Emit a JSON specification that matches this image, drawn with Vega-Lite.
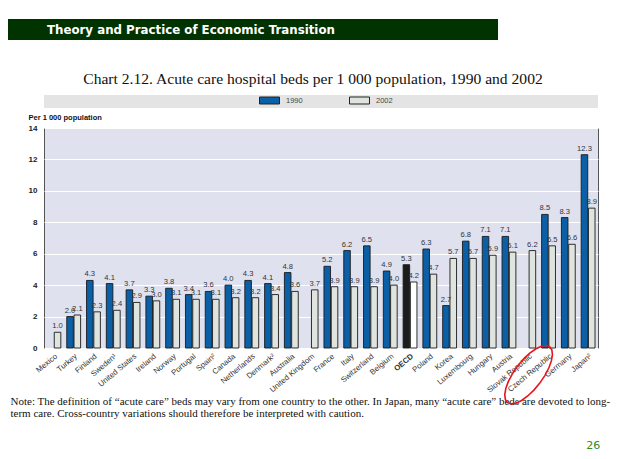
{
  "$schema": "https://vega.github.io/schema/vega-lite/v6.json",
  "background": "#ffffff",
  "padding": {"left": 8, "top": 19, "right": 0, "bottom": 0},
  "spacing": 32,
  "title": {"text": "26", "orient": "bottom", "anchor": "end", "offset": 21, "dx": -10, "color": "#2e8b2e", "fontSize": 11, "font": "DejaVu Sans", "fontWeight": "normal"},
  "datasets": {
    "beds": [
      {"country": "Mexico", "year": "2002", "value": 1.0},
      {"country": "Turkey", "year": "1990", "value": 2.0},
      {"country": "Turkey", "year": "2002", "value": 2.1},
      {"country": "Finland", "year": "1990", "value": 4.3},
      {"country": "Finland", "year": "2002", "value": 2.3},
      {"country": "Sweden¹", "year": "1990", "value": 4.1},
      {"country": "Sweden¹", "year": "2002", "value": 2.4},
      {"country": "United States", "year": "1990", "value": 3.7},
      {"country": "United States", "year": "2002", "value": 2.9},
      {"country": "Ireland", "year": "1990", "value": 3.3},
      {"country": "Ireland", "year": "2002", "value": 3.0},
      {"country": "Norway", "year": "1990", "value": 3.8},
      {"country": "Norway", "year": "2002", "value": 3.1},
      {"country": "Portugal", "year": "1990", "value": 3.4},
      {"country": "Portugal", "year": "2002", "value": 3.1},
      {"country": "Spain²", "year": "1990", "value": 3.6},
      {"country": "Spain²", "year": "2002", "value": 3.1},
      {"country": "Canada", "year": "1990", "value": 4.0},
      {"country": "Canada", "year": "2002", "value": 3.2},
      {"country": "Netherlands", "year": "1990", "value": 4.3},
      {"country": "Netherlands", "year": "2002", "value": 3.2},
      {"country": "Denmark²", "year": "1990", "value": 4.1},
      {"country": "Denmark²", "year": "2002", "value": 3.4},
      {"country": "Australia", "year": "1990", "value": 4.8},
      {"country": "Australia", "year": "2002", "value": 3.6},
      {"country": "United Kingdom", "year": "2002", "value": 3.7},
      {"country": "France", "year": "1990", "value": 5.2},
      {"country": "France", "year": "2002", "value": 3.9},
      {"country": "Italy", "year": "1990", "value": 6.2},
      {"country": "Italy", "year": "2002", "value": 3.9},
      {"country": "Switzerland", "year": "1990", "value": 6.5},
      {"country": "Switzerland", "year": "2002", "value": 3.9},
      {"country": "Belgium", "year": "1990", "value": 4.9},
      {"country": "Belgium", "year": "2002", "value": 4.0},
      {"country": "OECD", "year": "1990", "value": 5.3},
      {"country": "OECD", "year": "2002", "value": 4.2},
      {"country": "Poland", "year": "1990", "value": 6.3},
      {"country": "Poland", "year": "2002", "value": 4.7},
      {"country": "Korea", "year": "1990", "value": 2.7},
      {"country": "Korea", "year": "2002", "value": 5.7},
      {"country": "Luxembourg", "year": "1990", "value": 6.8},
      {"country": "Luxembourg", "year": "2002", "value": 5.7},
      {"country": "Hungary", "year": "1990", "value": 7.1},
      {"country": "Hungary", "year": "2002", "value": 5.9},
      {"country": "Austria", "year": "1990", "value": 7.1},
      {"country": "Austria", "year": "2002", "value": 6.1},
      {"country": "Slovak Republic", "year": "2002", "value": 6.2},
      {"country": "Czech Republic", "year": "1990", "value": 8.5},
      {"country": "Czech Republic", "year": "2002", "value": 6.5},
      {"country": "Germany", "year": "1990", "value": 8.3},
      {"country": "Germany", "year": "2002", "value": 6.6},
      {"country": "Japan²", "year": "1990", "value": 12.3},
      {"country": "Japan²", "year": "2002", "value": 8.9}
    ]
  },
  "vconcat": [
    {
      "width": 490,
      "height": 21,
      "view": {"fill": "#003300", "stroke": null},
      "data": {"values": [{"label": "Theory and Practice of Economic Transition"}]},
      "mark": {"type": "text", "align": "left", "baseline": "middle", "dx": -206, "color": "#ffffff", "font": "DejaVu Sans", "fontWeight": "bold", "fontSize": 11.8},
      "encoding": {"text": {"field": "label", "type": "nominal"}}
    },
    {
      "spacing": 0,
      "hconcat": [
        {
          "width": 1,
          "height": 1,
          "view": {"stroke": null},
          "data": {"values": [{"label": ""}]},
          "mark": {"type": "text"},
          "encoding": {"text": {"field": "label", "type": "nominal"}}
        },
        {
          "spacing": 20,
          "bounds": "flush",
          "vconcat": [
            {
              "width": 554,
              "height": 13,
              "view": {"fill": "#e4e4e4", "stroke": null},
              "title": {"text": "Chart 2.12.  Acute care hospital beds per 1 000 population, 1990 and 2002", "font": "Liberation Serif", "fontSize": 15.6, "fontWeight": "normal", "color": "#111111", "offset": 7, "dx": -8, "anchor": "middle"},
              "data": {"values": [{"label": ""}]},
              "mark": {"type": "text"},
              "encoding": {"text": {"field": "label", "type": "nominal"}}
            },
            {
              "width": 554,
              "height": 220,
              "view": {"fill": "#dfe2ee", "stroke": "#555555", "strokeWidth": 1},
              "data": {"name": "beds"},
              "encoding": {
                "x": {
                  "field": "country",
                  "type": "nominal",
                  "sort": null,
                  "scale": {"paddingInner": 0.3, "paddingOuter": 0.15},
                  "axis": {
                    "labelAngle": -40,
                    "labelFontSize": 7.8,
                    "labelColor": "#333333",
                    "labelFont": "Liberation Sans",
                    "ticks": false,
                    "domain": false,
                    "labelPadding": 4,
                    "labelFontWeight": {"condition": {"test": "datum.value === 'OECD'", "value": "bold"}, "value": "normal"},
                    "title": ["Note: The definition of “acute care” beds may vary from one country to the other. In Japan, many “acute care” beds are devoted to long-", "term care. Cross-country variations should therefore be interpreted with caution."],
                    "titleFont": "Liberation Serif",
                    "titleFontSize": 11,
                    "titleFontWeight": "normal",
                    "titleColor": "#111111",
                    "titleAlign": "left",
                    "titleAnchor": "start",
                    "titleX": -34,
                    "titleY": 47,
                    "titleBaseline": "top",
                    "titleLineHeight": 12.5
                  }
                },
                "y": {
                  "field": "value",
                  "type": "quantitative",
                  "scale": {"domain": [0, 14], "nice": false},
                  "axis": {
                    "values": [0, 2, 4, 6, 8, 10, 12, 14],
                    "grid": true,
                    "gridColor": "#ffffff",
                    "gridWidth": 1.2,
                    "domain": false,
                    "ticks": false,
                    "labelFont": "Liberation Sans",
                    "labelFontSize": 8,
                    "labelFontWeight": "bold",
                    "labelColor": "#222222",
                    "labelPadding": 7,
                    "title": "Per 1 000 population",
                    "titleAngle": 0,
                    "titleAlign": "left",
                    "titleBaseline": "middle",
                    "titleX": -16,
                    "titleY": -11,
                    "titleFont": "Liberation Sans",
                    "titleFontSize": 7.5,
                    "titleFontWeight": "bold",
                    "titleColor": "#111111"
                  }
                }
              },
              "layer": [
                {
                  "mark": {"type": "bar", "stroke": "#1a1a1a", "strokeWidth": 0.9},
                  "encoding": {
                    "xOffset": {"field": "year", "type": "nominal", "sort": ["1990", "2002"], "scale": {"paddingInner": 0.1}},
                    "fill": {
                      "condition": [
                        {"test": "datum.country === 'OECD' && datum.year === '1990'", "value": "#1c1c1c"},
                        {"test": "datum.country === 'OECD'", "value": "#ffffff"}
                      ],
                      "field": "year",
                      "type": "nominal",
                      "scale": {"domain": ["1990", "2002"], "range": ["#0b5fa7", "#e0e4df"]},
                      "legend": {
                        "orient": "none",
                        "legendX": 251,
                        "legendY": 71,
                        "direction": "horizontal",
                        "title": null,
                        "symbolType": "M-1,-0.35H1V0.35H-1Z",
                        "symbolSize": 400,
                        "symbolStrokeColor": "#222222",
                        "symbolStrokeWidth": 1,
                        "labelFont": "Liberation Sans",
                        "labelFontSize": 7.5,
                        "labelColor": "#444444",
                        "labelOffset": 6,
                        "columnPadding": 44,
                        "padding": 0
                      }
                    }
                  }
                },
                {
                  "mark": {"type": "text", "baseline": "bottom", "dy": -2, "fontSize": 7.6, "font": "Liberation Sans", "color": "#333333"},
                  "encoding": {
                    "xOffset": {"field": "year", "type": "nominal", "sort": ["1990", "2002"], "scale": {"paddingInner": 0.1}},
                    "text": {"field": "value", "type": "quantitative", "format": ".1f"}
                  }
                },
                {
                  "transform": [{"filter": "datum.country === 'Czech Republic' && datum.year === '1990'"}],
                  "mark": {"type": "point", "shape": "M1,0L0.966,0.1035L0.866,0.2L0.707,0.283L0.5,0.346L0.259,0.386L0,0.4L-0.259,0.386L-0.5,0.346L-0.707,0.283L-0.866,0.2L-0.966,0.1035L-1,0L-0.966,-0.1035L-0.866,-0.2L-0.707,-0.283L-0.5,-0.346L-0.259,-0.386L0,-0.4L0.259,-0.386L0.5,-0.346L0.707,-0.283L0.866,-0.2L0.966,-0.1035Z", "size": 4900, "angle": -53, "filled": false, "color": "#e8141c", "strokeWidth": 1.6, "opacity": 1},
                  "encoding": {
                    "x": {"field": "country", "type": "nominal", "sort": null, "bandPosition": -0.94},
                    "y": {"datum": -1.7}
                  }
                }
              ]
            }
          ]
        }
      ]
    }
  ],
  "config": {
    "view": {"stroke": null},
    "font": "Liberation Sans"
  }
}
